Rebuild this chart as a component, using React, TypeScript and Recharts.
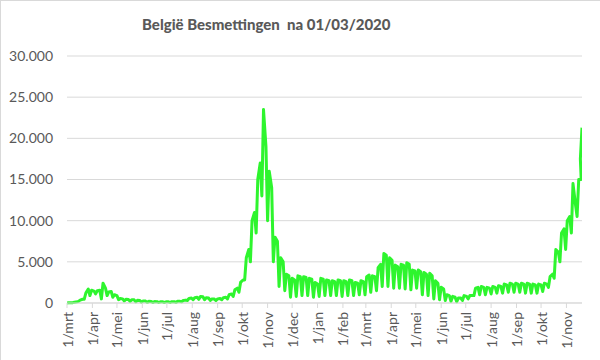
import React from "react";
import { LineChart, Line, XAxis, YAxis, CartesianGrid } from "recharts";

// Weekly lows (Sunday) and weekday plateau highs, Belgian daily infections, weeks starting 1/03/2020
const weekLow = [
  0, 40, 200, 450, 900, 1100, 500, 900, 700, 400,
  250, 200, 150, 100, 80, 70, 60, 60, 60, 80,
  150, 300, 400, 450, 400, 300, 300, 400, 500, 800,
  1300, 2800, 5000, 8500, 13000, 10000, 5000, 2000, 1500, 700,
  800, 900, 900, 700, 800, 900, 900, 900, 800, 900,
  900, 1000, 1000, 1300, 1500, 2000, 2000, 1800, 1800, 1700,
  1600, 1800, 1000, 900, 500, 400, 300, 200, 150, 300,
  500, 900, 1000, 1000, 1100, 1200, 1200, 1300, 1300, 1300,
  1200, 1200, 1200, 1400, 1900, 3000, 5000, 6500, 8500, 10500,
];
const weekHighEarly = [
  20, 100, 350, 1200, 1550, 1500, 2400, 1350, 1000, 550,
  450, 400, 330, 250, 200, 170, 150, 150, 160, 200,
  300, 550, 650, 800, 650, 500, 500, 650, 1000, 1600,
  2500, 5500, 10000, 15000, 23500, 16000, 8000, 5500, 3500, 3000,
  3300, 3200, 3000, 2500, 3000, 2800, 2700, 2800, 2700, 2800,
  2500, 2700, 3200, 3300, 4300, 6000, 5500, 4600, 4700, 4900,
  4000, 4000, 3700, 3600, 2700, 1900, 1000, 800, 600, 900,
  900, 1800, 2000, 1900, 2000, 2100, 2300, 2400, 2400, 2400,
  2400, 2300, 2300, 2400, 3200, 6500, 8500, 10000, 14500, 15000,
];
const weekHighLate = [
  30, 150, 450, 1700, 1450, 1550, 1800, 1400, 900, 500,
  420, 380, 300, 230, 190, 160, 140, 150, 160, 200,
  350, 600, 700, 750, 600, 480, 550, 700, 1100, 1800,
  2800, 6500, 11000, 17000, 19000, 14000, 7500, 5000, 3300, 2800,
  3200, 3100, 2900, 2300, 2900, 2700, 2600, 2700, 2600, 2700,
  2400, 2600, 3400, 3200, 4700, 5800, 5200, 4400, 4600, 4700,
  3900, 3800, 3500, 3300, 2400, 1700, 900, 700, 600, 800,
  900, 1900, 1900, 1800, 1900, 2000, 2200, 2300, 2300, 2300,
  2300, 2200, 2200, 2300, 3500, 6200, 9000, 10500, 12000, 15000,
];
const tailDays = [627, 629];
const tailValues = [17500, 21300];

const monthTickDays = [0, 31, 61, 92, 122, 153, 184, 214, 245, 275, 306, 337, 365, 396, 426, 457, 487, 518, 549, 579, 610];
const monthLabels = [
  "1/mrt", "1/apr", "1/mei", "1/jun", "1/jul", "1/aug", "1/sep", "1/okt", "1/nov", "1/dec",
  "1/jan", "1/feb", "1/mrt", "1/apr", "1/mei", "1/jun", "1/jul", "1/aug", "1/sep", "1/okt", "1/nov",
];
const yTicks = [0, 5000, 10000, 15000, 20000, 25000, 30000];

const data: { day: number; v: number }[] = [];
weekLow.forEach((low, i) => {
  data.push({ day: 7 * i, v: low });
  data.push({ day: 7 * i + 2, v: weekHighEarly[i] });
  data.push({ day: 7 * i + 5, v: weekHighLate[i] });
});
tailDays.forEach((d, i) => data.push({ day: d, v: tailValues[i] }));

const FONT = "Lato, 'Liberation Sans', sans-serif";
const GREY = "#595959";

const fmt = (v: number) => v.toLocaleString("de-DE");

const XTick = (props: any) => {
  const { x, y, payload } = props;
  const idx = monthTickDays.indexOf(payload.value);
  const tx = x + 5.5;
  const ty = y + 2;
  return (
    <text
      x={tx}
      y={ty}
      transform={`rotate(-90, ${tx}, ${ty})`}
      textAnchor="end"
      fill={GREY}
      fontSize={14}
      fontFamily={FONT}
    >
      {idx >= 0 ? monthLabels[idx] : ""}
    </text>
  );
};

export default function App() {
  return (
    <div style={{ position: "absolute", left: 0, top: 0, width: 600, height: 360, background: "#fff" }}>
      <div style={{ position: "absolute", left: 0, top: 0, width: 600, height: 1, background: "#d9d9d9" }} />
      <div style={{ position: "absolute", left: 0, top: 0, width: 1, height: 360, background: "#d9d9d9" }} />
      <div
        style={{
          position: "absolute",
          left: 142,
          top: 14,
          width: 240,
          textAlign: "center",
          fontFamily: FONT,
          fontWeight: 900,
          fontSize: 15,
          color: GREY,
          whiteSpace: "pre",
          lineHeight: "20px",
        }}
      >
        België Besmettingen  na 01/03/2020
      </div>
      <div style={{ position: "absolute", left: 0, top: 0 }}>
        <LineChart width={600} height={360} data={data} margin={{ top: 56, right: 18, bottom: 0, left: 0 }}>
          <CartesianGrid horizontal vertical={false} stroke="#d9d9d9" strokeWidth={1} />
          <XAxis
            dataKey="day"
            type="number"
            domain={[0, 629]}
            ticks={monthTickDays}
            interval={0}
            height={57}
            tick={<XTick />}
            tickSize={5}
            tickLine={{ stroke: "#d9d9d9" }}
            axisLine={{ stroke: "#d9d9d9" }}
            allowDataOverflow
          />
          <YAxis
            type="number"
            domain={[0, 30000]}
            ticks={yTicks}
            width={67}
            tickFormatter={fmt}
            axisLine={false}
            tickLine={false}
            tickSize={0}
            tickMargin={14}
            tick={{ fill: GREY, fontSize: 14, fontFamily: FONT }}
          />
          <Line
            type="linear"
            dataKey="v"
            stroke="#2ef52e"
            strokeWidth={3}
            strokeLinejoin="round"
            dot={false}
            isAnimationActive={false}
          />
        </LineChart>
      </div>
    </div>
  );
}
